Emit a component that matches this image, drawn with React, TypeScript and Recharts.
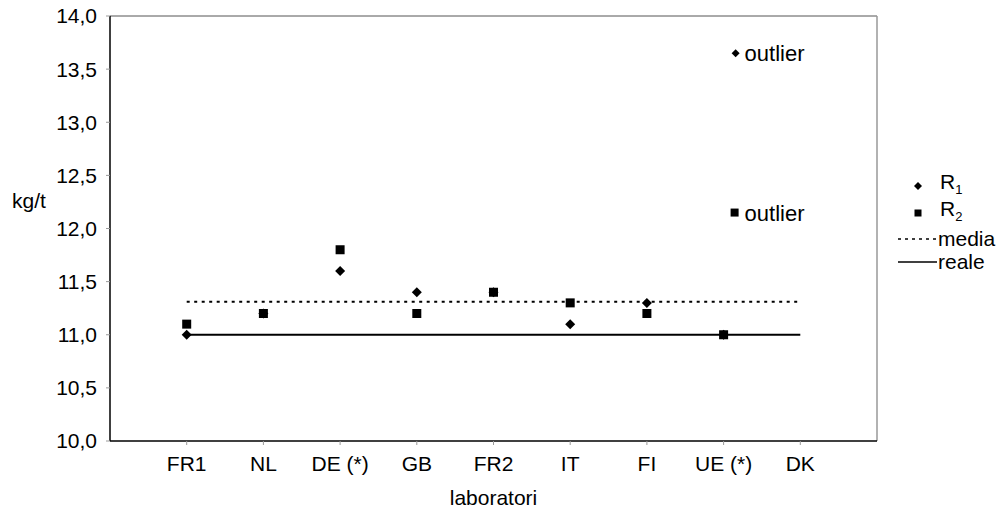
import { ComposedChart, Scatter, XAxis, YAxis, ReferenceLine, Label } from "recharts";

const FONT = '"Liberation Sans", Arial, sans-serif';

const categories = ["FR1", "NL", "DE (*)", "GB", "FR2", "IT", "FI", "UE (*)", "DK"];
const r1Values = [11.0, 11.2, 11.6, 11.4, 11.4, 11.1, 11.3, 11.0, null];
const r2Values = [11.1, 11.2, 11.8, 11.2, 11.4, 11.3, 11.2, 11.0, null];
const mediaValues = [11.31, 11.31, 11.31, 11.31, 11.31, 11.31, 11.31, 11.31, 11.31];
const realeValues = [11.0, 11.0, 11.0, 11.0, 11.0, 11.0, 11.0, 11.0, 11.0];
const outlierR1 = [{ cat: "UE (*)", value: 13.65 }];
const outlierR2 = [{ cat: "UE (*)", value: 12.15 }];
const yTicks = [10, 10.5, 11, 11.5, 12, 12.5, 13, 13.5, 14];

const toPoints = (vals: (number | null)[]) =>
    vals.map((v, i) => ({ x: i + 1, y: v })).filter((p) => p.y !== null);

const r1Data = toPoints(r1Values);
const r2Data = toPoints(r2Values);
const mediaData = toPoints(mediaValues);
const realeData = toPoints(realeValues);
const outR1Data = outlierR1.map((o) => ({ x: categories.indexOf(o.cat) + 1, y: o.value }));
const outR2Data = outlierR2.map((o) => ({ x: categories.indexOf(o.cat) + 1, y: o.value }));

const Diamond = ({ cx, cy, r = 5 }: any) => (
    <path d={`M${cx},${cy - r} L${cx + r},${cy} L${cx},${cy + r} L${cx - r},${cy} Z`} fill="#000" />
);
const Square = ({ cx, cy, s = 9 }: any) => (
    <rect x={cx - s / 2} y={cy - s / 2} width={s} height={s} fill="#000" />
);

const OutlierDiamond = (p: any) => (
    <g>
        <Diamond cx={p.cx + 12} cy={p.cy} r={4} />
        <text x={p.cx + 21} y={p.cy + 8} fontSize={22} fontFamily={FONT} fill="#000">outlier</text>
    </g>
);
const OutlierSquare = (p: any) => (
    <g>
        <Square cx={p.cx + 11} cy={p.cy} s={8} />
        <text x={p.cx + 21} y={p.cy + 8} fontSize={22} fontFamily={FONT} fill="#000">outlier</text>
    </g>
);

const noShape = () => <g />;

function LegendBox() {
    const row = { display: "flex", alignItems: "center" } as const;
    return (
        <div style={{ position: "absolute", left: 896, top: 172.5, fontFamily: FONT, fontSize: 21, color: "#000", lineHeight: "22px" }}>
            <div style={{ ...row, height: 27 }}>
                <svg width={44} height={20}><Diamond cx={22} cy={10} r={4} /></svg>
                <span>R<sub style={{ fontSize: 13 }}>1</sub></span>
            </div>
            <div style={{ ...row, height: 27 }}>
                <svg width={44} height={20}><Square cx={22} cy={10} s={7} /></svg>
                <span>R<sub style={{ fontSize: 13 }}>2</sub></span>
            </div>
            <div style={{ ...row, height: 24 }}>
                <svg width={44} height={20}><line x1={2} x2={41} y1={10} y2={10} stroke="#000" strokeWidth={1.5} strokeDasharray="3 4" /></svg>
                <span style={{ marginLeft: -2 }}>media</span>
            </div>
            <div style={{ ...row, height: 22 }}>
                <svg width={44} height={20}><line x1={2} x2={41} y1={10} y2={10} stroke="#000" strokeWidth={1.5} /></svg>
                <span style={{ marginLeft: -2 }}>reale</span>
            </div>
        </div>
    );
}

export default function App() {
    return (
        <div style={{ position: "absolute", left: 0, top: 0, width: 1007, height: 511, background: "#fff" }}>
            <ComposedChart width={1007} height={511} margin={{ top: 16, right: 130, bottom: 0, left: 0 }}>
                <XAxis
                    type="number"
                    dataKey="x"
                    domain={[0, 10]}
                    ticks={[1, 2, 3, 4, 5, 6, 7, 8, 9]}
                    tickFormatter={(v) => categories[v - 1] ?? ""}
                    height={70}
                    axisLine={{ stroke: "#000", strokeWidth: 1.5 }}
                    tickLine={{ stroke: "#999" }}
                    tickSize={4}
                    tickMargin={11}
                    tick={{ fill: "#000", fontSize: 21, fontFamily: FONT }}
                    allowDataOverflow
                >
                    <Label value="laboratori" position="insideBottom" offset={6} style={{ fill: "#000", fontSize: 21, fontFamily: FONT }} />
                </XAxis>
                <YAxis
                    type="number"
                    dataKey="y"
                    domain={[10, 14]}
                    ticks={yTicks}
                    tickFormatter={(v) => v.toFixed(1).replace(".", ",")}
                    width={110}
                    axisLine={{ stroke: "#000", strokeWidth: 1.5 }}
                    tickLine={{ stroke: "#999" }}
                    tickSize={4}
                    tickMargin={9}
                    tick={{ fill: "#000", fontSize: 21, fontFamily: FONT }}
                    allowDataOverflow
                >
                    <Label value="kg/t" position="insideLeft" offset={12} dy={-28} style={{ fill: "#000", fontSize: 21, fontFamily: FONT, textAnchor: "start" }} />
                </YAxis>
                <ReferenceLine y={14} stroke="#555" strokeWidth={1} />
                <ReferenceLine x={10} stroke="#999" strokeWidth={1.5} />
                <Scatter data={realeData} line={{ stroke: "#000", strokeWidth: 2 }} shape={noShape} isAnimationActive={false} />
                <Scatter data={mediaData} line={{ stroke: "#000", strokeWidth: 2, strokeDasharray: "3 4.5" }} shape={noShape} isAnimationActive={false} />
                <Scatter data={r1Data} shape={(p: any) => <Diamond cx={p.cx} cy={p.cy} r={5} />} isAnimationActive={false} />
                <Scatter data={r2Data} shape={(p: any) => <Square cx={p.cx} cy={p.cy} s={9} />} isAnimationActive={false} />
                <Scatter data={outR1Data} shape={OutlierDiamond} isAnimationActive={false} />
                <Scatter data={outR2Data} shape={OutlierSquare} isAnimationActive={false} />
            </ComposedChart>
            <LegendBox />
        </div>
    );
}
